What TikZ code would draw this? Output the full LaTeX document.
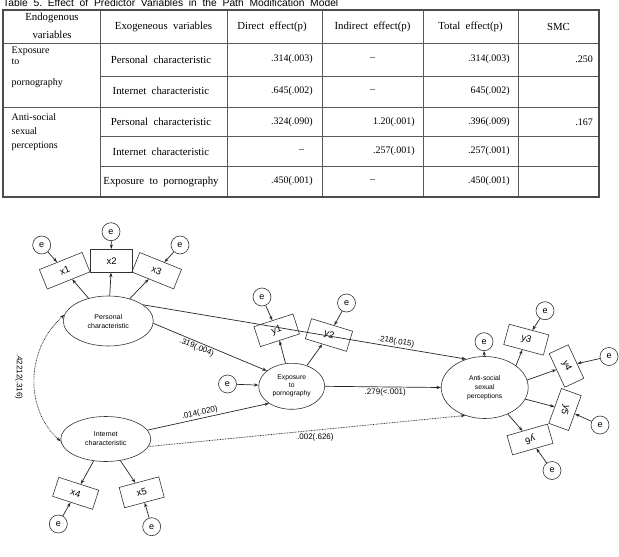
\documentclass[tikz,border=0pt]{standalone}
\usepackage{fontspec}
\setmainfont{Liberation Serif}
\newfontfamily\dgfont{Liberation Sans}
\usetikzlibrary{shapes.geometric,arrows.meta}
\begin{document}
\begin{tikzpicture}[x=1pt,y=-1pt,
  tline/.style={draw=black!65, line width=0.6pt},
  touter/.style={draw=black!70, line width=1.1pt},
  cell/.style={font=\fontsize{10}{12}\selectfont, inner sep=0pt},
  wcell/.style={font=\fontsize{10.8}{12}\selectfont, inner sep=0pt},
  lat/.style={draw=black!80, line width=0.6pt, ellipse, inner sep=0pt, align=center, font=\dgfont\fontsize{7}{9}\selectfont},
  ind/.style={draw=black!80, line width=0.6pt, rectangle, minimum width=43pt, minimum height=21pt, inner sep=0pt, font=\dgfont\fontsize{9.5}{11}\selectfont},
  err/.style={draw=black!80, line width=0.6pt, circle, minimum size=18pt, inner sep=0pt, font=\dgfont\fontsize{9}{10}\selectfont},
  arr/.style={-{Stealth[length=4.5pt,width=3.2pt]}, line width=0.7pt, draw=black!85},
  lbl/.style={font=\dgfont\fontsize{8}{9}\selectfont, inner sep=1.5pt},
  dots/.style={dash pattern=on 0.8pt off 0.8pt},
]
\useasboundingbox (0,0) rectangle (619,557);
\fill[white] (0,0) rectangle (619,557);

% ---------- title ----------
\node[anchor=base west, inner sep=0pt, font=\dgfont\fontsize{10.3}{12}\selectfont] (title) at (3,6.5)
  {Table\ \ 5.\ \ Effect\ \ of\ \ Predictor\ \ Variables\ \ in\ \ the\ \ Path\ \ Modification\ \ Model};

% ---------- table grid ----------
\draw[tline] (3,43) -- (599,43);
\draw[tline] (100,76) -- (599,76);
\draw[tline] (3,107) -- (599,107);
\draw[tline] (100,136) -- (599,136);
\draw[tline] (100,166) -- (599,166);
\foreach \cx in {100,227,322,423,518} \draw[tline] (\cx,10) -- (\cx,197);
\draw[touter] (3,10) rectangle (599,197);

% header
\node[wcell] (h1a) at (52,18) {Endogenous};
\node[wcell] (h1b) at (52,35) {variables};
\node[wcell] (h2) at (163.5,27) {Exogeneous\ \ variables};
\node[wcell] (h3) at (272,27) {Direct\ \ effect(p)};
\node[wcell] (h4) at (372.5,27) {Indirect\ \ effect(p)};
\node[wcell] (h5) at (470.5,27) {Total\ \ effect(p)};
\node[wcell] (h6) at (558.5,27) {SMC};

% column 1
\node[cell, anchor=west] (g1a) at (11.5,51.7) {Exposure};
\node[cell, anchor=west] (g1b) at (11.5,62) {to};
\node[cell, anchor=west] (g1c) at (11.5,83) {pornography};
\node[cell, anchor=west] (g2a) at (11.5,116.7) {Anti-social};
\node[cell, anchor=west] (g2b) at (11.5,131) {sexual};
\node[cell, anchor=west] (g2c) at (11.5,146.7) {perceptions};

% row 1
\node[wcell] (r1a) at (161,59.5) {Personal\ \ characteristic};
\node[cell, anchor=east] (r1b) at (313,59.5) {.314(.003)};
\node[cell] (r1c) at (372.5,59.5) {–};
\node[cell, anchor=east] (r1d) at (510,59.5) {.314(.003)};
\node[cell, anchor=east] (r1e) at (593,59.5) {.250};
% row 2
\node[wcell] (r2a) at (161,91) {Internet\ \ characteristic};
\node[cell, anchor=east] (r2b) at (313,91) {.645(.002)};
\node[cell] (r2c) at (372.5,91) {–};
\node[cell, anchor=east] (r2d) at (510,91) {645(.002)};
% row 3
\node[wcell] (r3a) at (161,122) {Personal\ \ characteristic};
\node[cell, anchor=east] (r3b) at (313,122) {.324(.090)};
\node[cell, anchor=east] (r3c) at (415,122) {1.20(.001)};
\node[cell, anchor=east] (r3d) at (510,122) {.396(.009)};
\node[cell, anchor=east] (r3e) at (593,122) {.167};
% row 4
\node[wcell] (r4a) at (161,151.5) {Internet\ \ characteristic};
\node[cell] (r4b) at (301.5,151.5) {–};
\node[cell, anchor=east] (r4c) at (415,151.5) {.257(.001)};
\node[cell, anchor=east] (r4d) at (510,151.5) {.257(.001)};
% row 5
\node[wcell] (r5a) at (161,181.5) {Exposure\ \ to\ \ pornography};
\node[cell, anchor=east] (r5b) at (313,181.5) {.450(.001)};
\node[cell] (r5c) at (372.5,181.5) {–};
\node[cell, anchor=east] (r5d) at (510,181.5) {.450(.001)};

% ---------- path diagram ----------
\node[lat, minimum width=90pt, minimum height=50pt] (P) at (108.3,321) {Personal\\characteristic};
\node[lat, minimum width=90pt, minimum height=45pt] (I) at (105.8,439) {Internet\\characteristic};
\node[lat, minimum width=66pt, minimum height=46pt, font=\dgfont\fontsize{6.8}{8}\selectfont] (E) at (291.7,386.3) {Exposure\\to\\pornography};
\node[lat, minimum width=87pt, minimum height=62pt, font=\dgfont\fontsize{6.8}{9}\selectfont] (A) at (484.7,387.5) {Anti-social\\sexual\\perceptions};

% indicators
\node[ind, minimum width=46pt, rotate=22] (x1) at (64.7,270.7) {x1};
\node[ind, minimum width=42pt, minimum height=23pt] (x2) at (111.7,260.8) {x2};
\node[ind, minimum width=45pt, rotate=-22] (x3) at (156.7,270.7) {x3};
\node[ind, minimum width=42pt, minimum height=20pt, rotate=-18] (x4) at (75.7,493.3) {x4};
\node[ind, minimum width=41pt, rotate=15] (x5) at (141.7,492.3) {x5};
\node[ind, minimum width=41pt, rotate=18] (y1) at (276.7,330.3) {y1};
\node[ind, minimum width=43pt, rotate=-17] (y2) at (329,335) {y2};
\node[ind, minimum width=41pt, rotate=-15] (y3) at (526.3,339.7) {y3};
\node[ind, minimum width=37pt, rotate=-65] (y4) at (566.5,366) {y4};
\node[ind, minimum width=37pt, rotate=-110] (y5) at (565,409.5) {y5};
\node[ind, minimum width=42pt, minimum height=20pt, rotate=-164] (y6) at (530,439.5) {y6};

% error terms
\node[err] (e1) at (41.7,245) {e};
\node[err] (e2) at (111,231.7) {e};
\node[err] (e3) at (180,245) {e};
\node[err] (e4) at (58.3,524) {e};
\node[err] (e5) at (151.7,526.7) {e};
\node[err] (ey1) at (262,297) {e};
\node[err] (ey2) at (346.5,303) {e};
\node[err] (eE) at (227.5,384) {e};
\node[err] (eA) at (484,341.7) {e};
\node[err] (ey3) at (545,310.7) {e};
\node[err] (ey4) at (609,356.5) {e};
\node[err] (ey5) at (600,425) {e};
\node[err] (ey6) at (552,470.5) {e};

% measurement arrows
\draw[arr] (P) -- (x1);
\draw[arr] (P) -- (x2);
\draw[arr] (P) -- (x3);
\draw[arr] (I) -- (x4);
\draw[arr] (I) -- (x5);
\draw[arr] (E) -- (y1);
\draw[arr] (E) -- (y2);
\draw[arr] (A.35) -- (y3);
\draw[arr] (A.10) -- (y4);
\draw[arr] (A.-16) -- (y5);
\draw[arr] (A.-49) -- (y6);

% error arrows
\draw[arr] (e1) -- (x1);
\draw[arr] (e2) -- (x2);
\draw[arr] (e3) -- (x3);
\draw[arr] (e4) -- (x4);
\draw[arr] (e5) -- (x5);
\draw[arr] (ey1) -- (y1);
\draw[arr] (ey2) -- (y2);
\draw[arr] (eE) -- (E);
\draw[arr] (A) -- (eA);
\draw[arr] (ey3) -- (y3);
\draw[arr] (ey4) -- (y4);
\draw[arr] (ey5) -- (y5);
\draw[arr] (ey6) -- (y6);

% structural paths
\draw[arr] (P.-3) -- (E.148) node[lbl, pos=0.4, sloped, below] (l1) {.319(.004)};
\draw[arr] (P.25) -- (A.123) node[lbl, pos=0.78, sloped, above] (l2) {.218(.015)};
\draw[arr] (E.east) -- (A.west) node[lbl, pos=0.52, below] (l3) {.279(<.001)};
\draw[arr] (I.12) -- (E.217) node[lbl, pos=0.44, sloped, above] (l4) {.014(.020)};
\draw[arr, dots] (I.-10) -- (A.235) node[lbl, pos=0.527, below=2pt] (l5) {.002(.626)};

% covariance
\draw[{Stealth[length=4.5pt,width=3.2pt]}-{Stealth[length=4.5pt,width=3.2pt]}, line width=0.7pt, draw=black!85, dots]
  (P.172) .. controls (25,350) and (25,410) .. (I.183);
\node[lbl, rotate=-90] (l6) at (19,376.7) {.42212(.316)};
\end{tikzpicture}
\end{document}
